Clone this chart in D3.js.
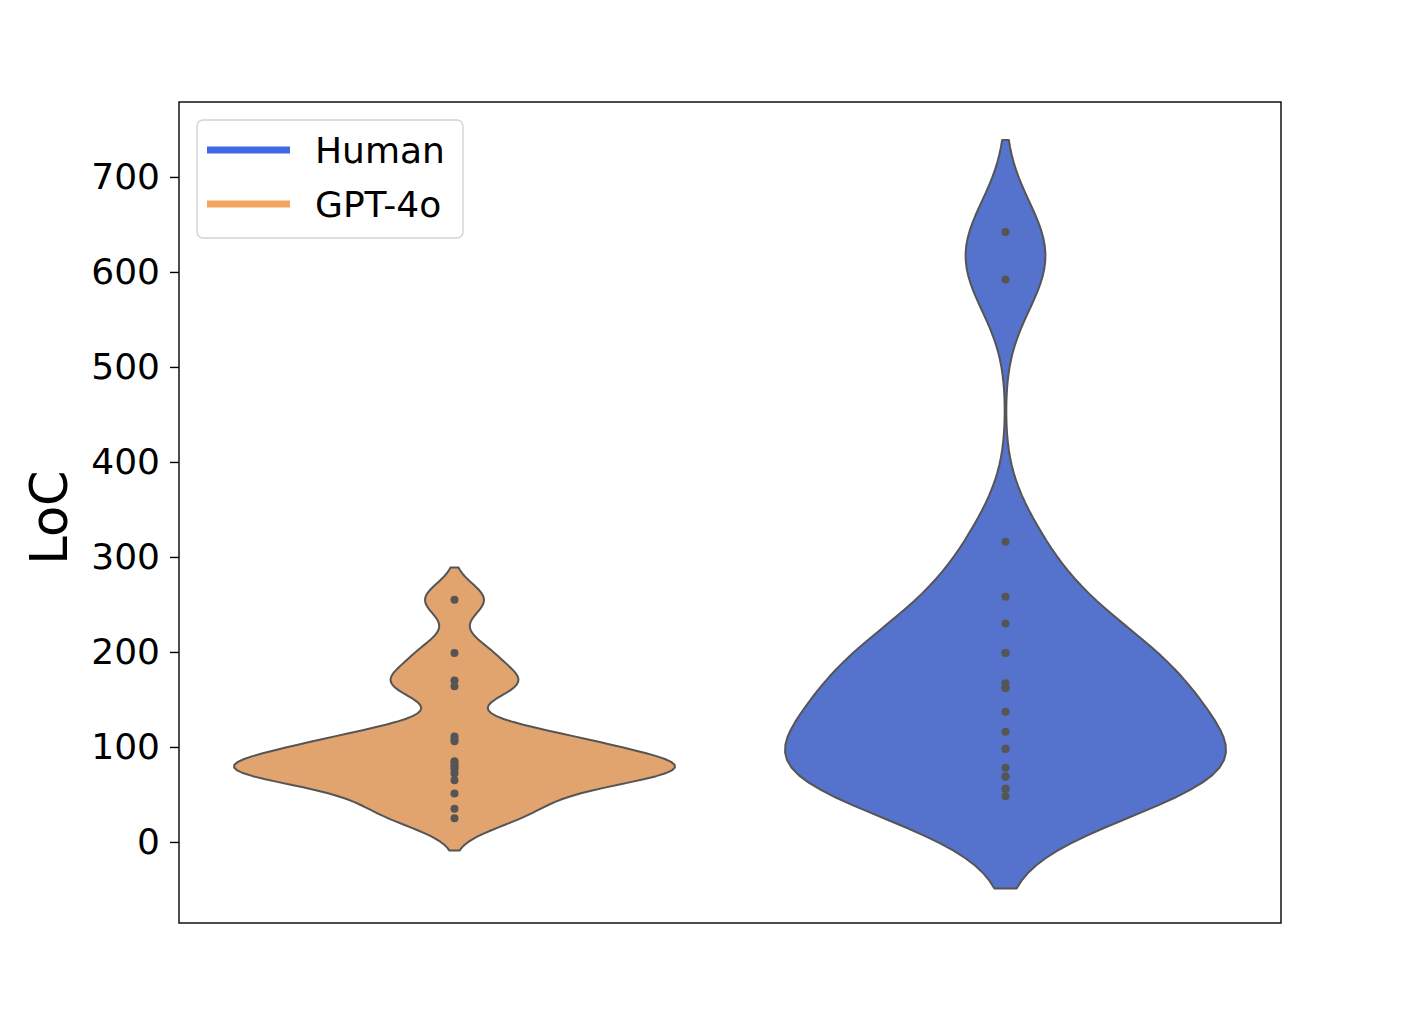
<!DOCTYPE html>
<html>
<head>
<meta charset="utf-8">
<script src="https://cdn.jsdelivr.net/npm/d3@7"></script>
<style>
  html, body { margin: 0; padding: 0; background: #fff; }
  svg { display: block; font-family: "DejaVu Sans", sans-serif; }
</style>
</head>
<body>
<svg id="chart" width="1423" height="1014"></svg>
<script>
// ---- data (overlapping dots counted from violin widths) ----
const seriesNames = ["GPT-4o", "Human"];
const seriesPositions = [0, 1];
const gptValues = [255, 199, 170, 164, 111, 108, 106, 85, 83, 80, 79, 76, 72, 65, 51, 35, 25];
const humanValues = [642, 592, 316, 258, 230, 199, 199, 167, 162, 162, 137, 116, 98, 98, 78, 69, 69, 56, 56, 48];
const bandwidths = [17, 48.5];
const yTicks = [0, 100, 200, 300, 400, 500, 600, 700];
const legendNames = ["Human", "GPT-4o"];
const legendColors = ["#4169E1", "#F4A460"];
const fillColors = ["#E1A46F", "#5573CD"];

(function () {
const svg = d3.select("#chart");
const pLeft = 179, pRight = 1281, pTop = 102, pBottom = 923;

const x = d3.scaleLinear().domain([-0.5, 1.5]).range([pLeft, pRight]);
const y = d3.scaleLinear().domain([-85.3, 778.9]).range([pBottom, pTop]);

function kde(values, bw) {
  const lo = d3.min(values) - 2 * bw, hi = d3.max(values) + 2 * bw;
  const grid = d3.range(100).map(i => lo + (hi - lo) * i / 99);
  const dens = grid.map(g => d3.sum(values, v => Math.exp(-0.5 * ((g - v) / bw) ** 2)));
  const mx = d3.max(dens);
  return grid.map((g, i) => ({ v: g, d: dens[i] / mx }));
}

const allValues = [gptValues, humanValues];
const halfWidth = 0.4;

allValues.forEach((vals, i) => {
  const prof = kde(vals, bandwidths[i]);
  const c = seriesPositions[i];
  const area = d3.area()
    .y(p => y(p.v))
    .x0(p => x(c - p.d * halfWidth))
    .x1(p => x(c + p.d * halfWidth));
  svg.append("path")
    .attr("d", area(prof))
    .attr("fill", fillColors[i])
    .attr("stroke", "#555")
    .attr("stroke-width", 2)
    .attr("stroke-linejoin", "round");
  svg.append("g").selectAll("circle").data(vals).join("circle")
    .attr("cx", x(c))
    .attr("cy", v => y(v))
    .attr("r", 4)
    .attr("fill", "#555");
});

// frame
svg.append("rect")
  .attr("x", pLeft).attr("y", pTop)
  .attr("width", pRight - pLeft).attr("height", pBottom - pTop)
  .attr("fill", "none").attr("stroke", "#000").attr("stroke-width", 1.4);

// y axis
const yAxis = d3.axisLeft(y).tickValues(yTicks).tickSize(9).tickPadding(10).tickFormat(d3.format("d"));
const yg = svg.append("g").attr("transform", `translate(${pLeft},0)`).call(yAxis);
yg.select(".domain").remove();
yg.selectAll(".tick line").attr("stroke", "#000").attr("stroke-width", 1.4);
yg.selectAll(".tick text").attr("font-size", 36).attr("fill", "#000")
  .attr("font-family", "DejaVu Sans, sans-serif");

// y label
svg.append("text")
  .attr("transform", `translate(67,${(y(0) + y(700)) / 2 + 8}) rotate(-90)`)
  .attr("text-anchor", "middle")
  .attr("font-size", 51)
  .attr("fill", "#000")
  .text("LoC");

// legend
const lg = svg.append("g");
lg.append("rect")
  .attr("x", 197).attr("y", 120).attr("width", 266).attr("height", 118)
  .attr("rx", 6).attr("fill", "#fff").attr("fill-opacity", 0.8)
  .attr("stroke", "#d3d3d3").attr("stroke-width", 1.4);
legendNames.forEach((name, i) => {
  const yy = 150 + i * 54;
  lg.append("line").attr("x1", 207).attr("x2", 290).attr("y1", yy).attr("y2", yy)
    .attr("stroke", legendColors[i]).attr("stroke-width", 7);
  lg.append("text").attr("x", 315).attr("y", yy).attr("dy", "0.36em")
    .attr("font-size", 36).attr("fill", "#000").text(name);
});
})();
</script>
</body>
</html>
